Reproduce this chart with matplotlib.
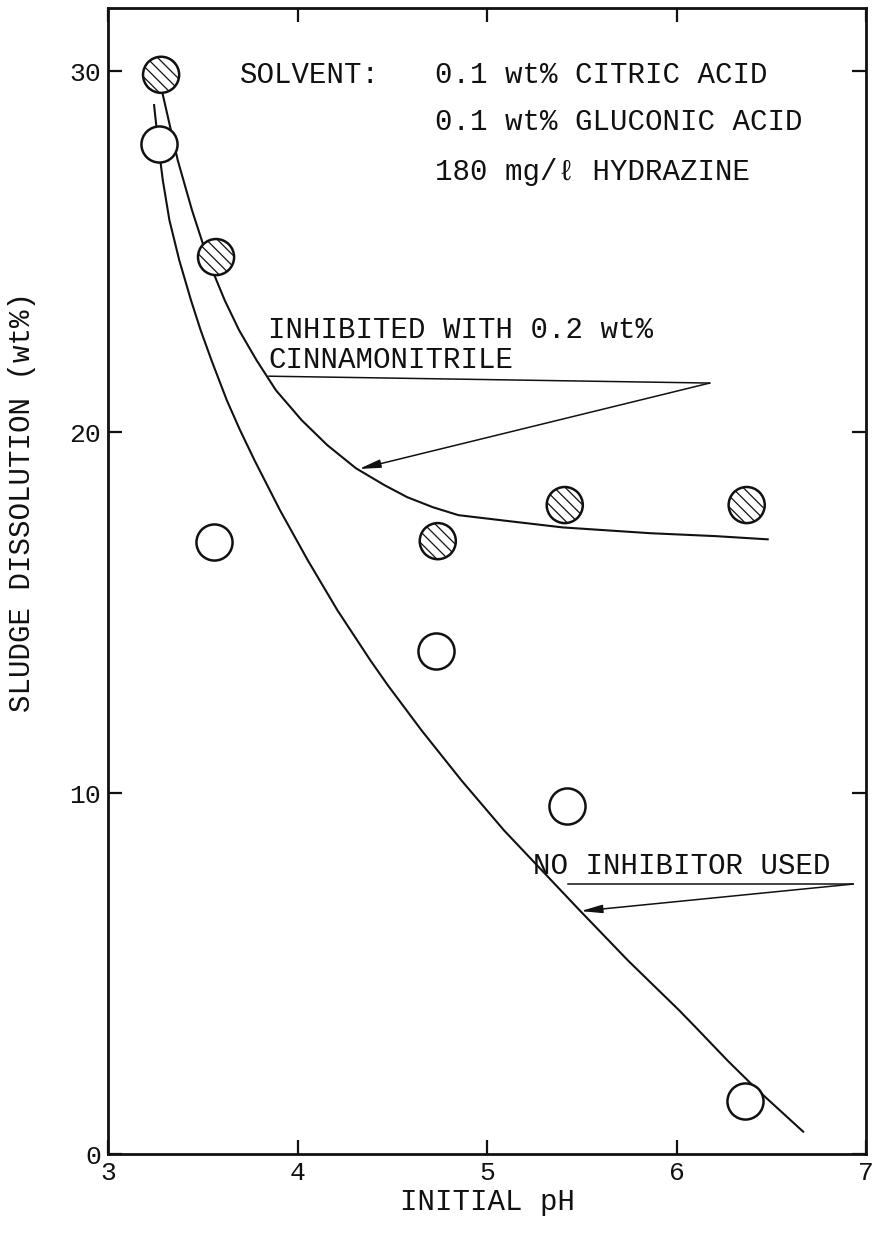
import numpy as np
import matplotlib
matplotlib.use("Agg")
import matplotlib.pyplot as plt

# Sludge dissolution vs. initial pH, with and without inhibitor
ph_inhib = [3.28, 3.57, 4.74, 5.41, 6.37]
diss_inhib = [29.9, 24.85, 16.98, 17.98, 17.98]

ph_none = [3.27, 3.56, 4.73, 5.42, 6.36]
diss_none = [27.98, 16.95, 13.93, 9.64, 1.47]

# hand-drawn trend curves (traced)
curve_inhib_x = [3.286, 3.368, 3.443, 3.503, 3.557, 3.616, 3.692, 3.784, 3.886,
                 4.022, 4.157, 4.308, 4.459, 4.578, 4.714, 4.849, 5.122, 5.40,
                 5.861, 6.202, 6.481]
curve_inhib_y = [29.42, 27.53, 26.15, 25.18, 24.40, 23.65, 22.82, 21.99, 21.16,
                 20.33, 19.64, 19.00, 18.53, 18.20, 17.92, 17.70, 17.53, 17.36,
                 17.20, 17.12, 17.03]

curve_none_x = [3.243, 3.265, 3.289, 3.324, 3.376, 3.438, 3.489, 3.546, 3.627,
                3.697, 3.773, 3.908, 4.054, 4.211, 4.384, 4.476, 4.654, 4.865,
                5.089, 5.289, 5.489, 5.744, 6.014, 6.101, 6.269, 6.418, 6.668]
curve_none_y = [29.06, 27.98, 26.98, 25.87, 24.76, 23.65, 22.82, 21.99, 20.88,
                20.05, 19.22, 17.83, 16.45, 15.06, 13.68, 12.99, 11.74, 10.35,
                8.97, 7.86, 6.75, 5.36, 3.98, 3.51, 2.59, 1.82, 0.62]

xticks = [3, 4, 5, 6, 7]
yticks = [0, 10, 20, 30]

solvent_lines = ["0.1 wt% CITRIC ACID", "0.1 wt% GLUCONIC ACID", "180 mg/\u2113 HYDRAZINE"]

plt.rcParams['font.family'] = ['Liberation Mono', 'DejaVu Sans Mono']
plt.rcParams['hatch.linewidth'] = 0.9
plt.rcParams['hatch.color'] = 'black'

fig = plt.figure(figsize=(8.79, 12.34), dpi=100)
ax = fig.add_axes([0.1229, 0.0648, 0.8624, 0.9287])

ink = '#111111'
ax.plot(curve_inhib_x, curve_inhib_y, color=ink, lw=1.5, zorder=2,
        solid_joinstyle='round')
ax.plot(curve_none_x, curve_none_y, color=ink, lw=1.5, zorder=2,
        solid_joinstyle='round')

ax.scatter(ph_none, diss_none, s=26 ** 2, facecolor='white', edgecolor=ink,
           linewidth=1.8, zorder=3)
ax.scatter(ph_inhib, diss_inhib, s=26 ** 2, facecolor='white', edgecolor=ink,
           linewidth=1.8, hatch='\\\\\\', zorder=3)

ax.set_xlim(3, 7)
ax.set_ylim(0, 31.75)
ax.set_xticks(xticks)
ax.set_yticks(yticks)
ax.tick_params(direction='in', length=10, width=1.6, labelsize=19,
               top=True, right=True, pad=5, colors=ink)
for sp in ax.spines.values():
    sp.set_linewidth(2.0)
    sp.set_color(ink)

ax.set_xlabel('INITIAL pH', fontsize=21, labelpad=2, color=ink)
ax.set_ylabel('SLUDGE DISSOLUTION (wt%)', fontsize=21, color=ink, va='center')
ax.yaxis.set_label_coords(-0.114, 0.569)

# solvent composition block
txt = dict(fontsize=21, color=ink, va='center', ha='left', transform=ax.transAxes)
ax.text(0.174, 0.9415, 'SOLVENT:', **txt)
for fy, line in zip([0.9415, 0.9005, 0.8568], solvent_lines):
    ax.text(0.4314, fy, line, **txt)

arrow = dict(arrowstyle='-|>,head_length=1.3,head_width=0.25',
             color=ink, lw=1.1, shrinkA=0, shrinkB=0)

# inhibited-curve callout
ax.text(0.211, 0.7189, 'INHIBITED WITH 0.2 wt%', **txt)
ax.text(0.211, 0.6927, 'CINNAMONITRILE', **txt)
ax.plot([3.849, 6.175], [21.55, 21.36], color=ink, lw=1.1)
ax.annotate('', xy=(4.324, 18.98), xytext=(6.175, 21.36), arrowprops=arrow)

# uninhibited-curve callout
ax.text(0.5607, 0.251, 'NO INHIBITOR USED', **txt)
ax.plot([5.428, 6.933], [7.48, 7.48], color=ink, lw=1.1)
ax.annotate('', xy=(5.494, 6.73), xytext=(6.933, 7.48), arrowprops=arrow)

fig.savefig('out.png', dpi=100)
